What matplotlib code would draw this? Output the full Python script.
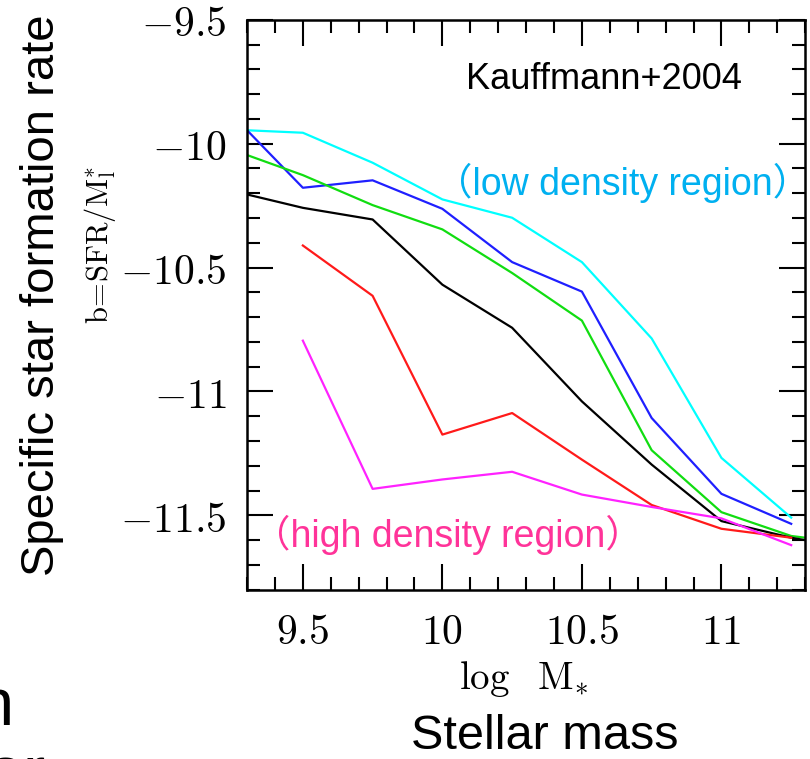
import matplotlib
matplotlib.use("Agg")
import matplotlib.pyplot as plt
from matplotlib.ticker import MultipleLocator, FixedLocator

# -----------------------------
# Data
# -----------------------------
X_MAIN = [9.3, 9.5, 9.75, 10.0, 10.25, 10.5, 10.75, 11.0, 11.25]
X_TAIL = X_MAIN + [11.3]
X_LATE = [9.5, 9.75, 10.0, 10.25, 10.5, 10.75, 11.0, 11.25]

CYAN = [-9.946, -9.956, -10.077, -10.225, -10.299, -10.478, -10.786, -11.268, -11.509]
BLUE = [-9.946, -10.178, -10.148, -10.263, -10.478, -10.597, -11.107, -11.413, -11.534]
GREEN = [-10.046, -10.127, -10.248, -10.346, -10.522, -10.714, -11.237, -11.487, -11.583, -11.59]
BLACK = [-10.205, -10.259, -10.306, -10.569, -10.743, -11.04, -11.295, -11.523, -11.59, -11.6]
RED = [-10.411, -10.614, -11.174, -11.087, -11.275, -11.458, -11.554, -11.59]
MAGENTA = [-10.795, -11.393, -11.355, -11.324, -11.416, -11.466, -11.512, -11.62]

X_TICKS = [9.5, 10, 10.5, 11]
X_TICK_LABELS = [r"$9.5$", r"$10$", r"$10.5$", r"$11$"]
Y_TICKS = [-9.5, -10, -10.5, -11, -11.5]
Y_TICK_LABELS = [r"$-9.5$", r"$-10$", r"$-10.5$", r"$-11$", r"$-11.5$"]

SANS = ["Liberation Sans", "Noto Sans CJK JP", "DejaVu Sans"]

plt.rcParams["mathtext.fontset"] = "cm"


def main() -> None:
    fig = plt.figure(figsize=(8.1, 7.59), dpi=100)
    ax = fig.add_axes([0.305, 0.223, 0.689, 0.751])

    lw = 1.6
    ax.plot(X_MAIN, CYAN, color="#00FFFF", lw=lw)
    ax.plot(X_MAIN, BLUE, color="#1F1FFF", lw=lw)
    ax.plot(X_TAIL, GREEN, color="#11DD11", lw=lw)
    ax.plot(X_TAIL, BLACK, color="black", lw=lw)
    ax.plot(X_LATE, RED, color="#FF1A1A", lw=lw)
    ax.plot(X_LATE, MAGENTA, color="#FF22FF", lw=lw)

    ax.set_xlim(9.3, 11.3)
    ax.set_ylim(-11.8, -9.5)

    # Ticks: inward on all sides, SM-style
    ax.xaxis.set_major_locator(FixedLocator(X_TICKS))
    ax.yaxis.set_major_locator(FixedLocator(Y_TICKS))
    ax.xaxis.set_minor_locator(MultipleLocator(0.1))
    ax.yaxis.set_minor_locator(MultipleLocator(0.1))
    ax.set_xticklabels(X_TICK_LABELS, fontsize=30)
    ax.set_yticklabels(Y_TICK_LABELS, fontsize=30)
    ax.tick_params(which="both", direction="in", top=True, right=True, width=1.5)
    ax.tick_params(which="major", length=19)
    ax.tick_params(which="minor", length=9.5)
    ax.tick_params(axis="x", pad=15)
    ax.tick_params(axis="y", pad=15)
    for sp in ax.spines.values():
        sp.set_linewidth(1.8)

    # Annotations inside the axes
    ax.text(11.075, -9.74, "Kauffmann+2004", ha="right", va="center",
            fontsize=26, family=SANS)
    ax.text(10.645, -10.16, "\uff08low density region\uff09", ha="center", va="center",
            fontsize=27, family=SANS, color="#00B0F0")
    ax.text(10.02, -11.58, "\uff08high density region\uff09", ha="center", va="center",
            fontsize=27, family=SANS, color="#FF3399")

    # Axis labels (placed in figure coordinates)
    fig.text(0.123, 0.677, r"$\mathrm{b\!=\!SFR/M}^{*}_{\mathrm{l}}$", rotation=90,
             ha="center", va="center", fontsize=22)
    fig.text(0.646, 0.105, r"$\log\ \ \mathrm{M}_{*}$", ha="center", va="center",
             fontsize=28)
    fig.text(0.052, 0.611, "Specific star formation rate", rotation=90,
             ha="center", va="center", fontsize=34, family=SANS)
    fig.text(0.672, 0.03, "Stellar mass", ha="center", va="center",
             fontsize=35, family=SANS)

    # Clipped fragments of neighbouring slide text
    fig.text(0.017, 0.045, "n", ha="right", va="baseline", fontsize=48, family=SANS)
    fig.text(0.056, -0.045, "or", ha="right", va="baseline", fontsize=48, family=SANS)

    fig.savefig("out.png", dpi=100)
    plt.close(fig)


if __name__ == "__main__":
    main()
